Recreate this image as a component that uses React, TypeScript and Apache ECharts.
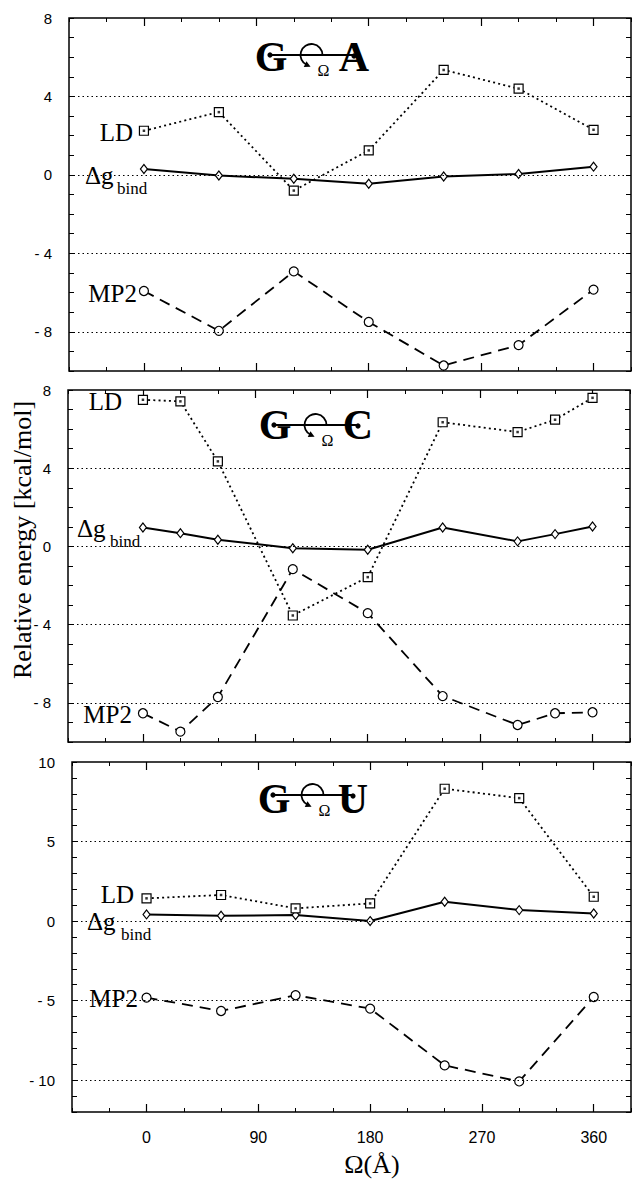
import React, { useEffect, useRef } from "react";
import * as echarts from "echarts";

// Ω (degrees) sampled for each complex
const anglesGA = [0, 60, 120, 180, 240, 300, 360];
const anglesGC = [0, 30, 60, 120, 180, 240, 300, 330, 360];
const anglesGU = [0, 60, 120, 180, 240, 300, 360];

// G–A
const gaLD = [2.25, 3.2, -0.8, 1.25, 5.35, 4.4, 2.3];
const gaDg = [0.3, -0.03, -0.2, -0.45, -0.08, 0.05, 0.42];
const gaMP2 = [-5.92, -7.95, -4.92, -7.5, -9.72, -8.68, -5.85];

// G–C
const gcLD = [7.5, 7.42, 4.35, -3.53, -1.57, 6.35, 5.85, 6.48, 7.6];
const gcDg = [0.97, 0.68, 0.34, -0.09, -0.17, 0.97, 0.26, 0.63, 1.02];
const gcMP2 = [-8.53, -9.47, -7.7, -1.16, -3.41, -7.65, -9.13, -8.53, -8.48];

// G–U
const guLD = [1.43, 1.64, 0.8, 1.11, 8.32, 7.73, 1.53];
const guDg = [0.42, 0.34, 0.38, 0.0, 1.22, 0.69, 0.48];
const guMP2 = [-4.81, -5.65, -4.66, -5.5, -9.07, -10.08, -4.77];

const xTickLabels = [0, 90, 180, 270, 360];
const yLabelsGA = [8, 4, 0, -4, -8];
const yLabelsGC = [8, 4, 0, -4, -8];
const yLabelsGU = [10, 5, 0, -5, -10];
const gridValsGA = [4, 0, -4, -8];
const gridValsGC = [4, 0, -4, -8];
const gridValsGU = [5, 0, -5, -10];

const panels = [
  { left: 69, top: 18, height: 353, min: -10, max: 8, yLabels: yLabelsGA, gridVals: gridValsGA, angles: anglesGA, ld: gaLD, dg: gaDg, mp2: gaMP2 },
  { left: 68, top: 390, height: 352, min: -10, max: 8, yLabels: yLabelsGC, gridVals: gridValsGC, angles: anglesGC, ld: gcLD, dg: gcDg, mp2: gcMP2 },
  { left: 72, top: 762, height: 350, min: -12, max: 10, yLabels: yLabelsGU, gridVals: gridValsGU, angles: anglesGU, ld: guLD, dg: guDg, mp2: guMP2 },
];

const SERIF = "'Liberation Serif', 'Times New Roman', serif";
const SANS = "'Liberation Sans', Arial, sans-serif";
const BLACK = "#000";

function fmtY(v: number) {
  return v < 0 ? "- " + Math.abs(v) : String(v);
}

function titleEls(gx: number, ax: number, ly: number, ty: number, letter: string) {
  const cx = (gx + ax) / 2 - 1;
  const r = 11;
  const th = 2.0;
  const px = cx + r * Math.cos(th);
  const py = ly + r * Math.sin(th);
  const dx = Math.sin(th), dy = -Math.cos(th);
  const nx = -dy, ny = dx;
  const tip = [px + dx * 4, py + dy * 4];
  const b1 = [px - dx * 2 + nx * 3.2, py - dy * 2 + ny * 3.2];
  const b2 = [px - dx * 2 - nx * 3.2, py - dy * 2 - ny * 3.2];
  const letterStyle = { fontSize: 42, fontWeight: "bold", fontFamily: SERIF, fill: BLACK, textAlign: "center", textVerticalAlign: "middle" };
  return [
    { type: "text", x: gx, y: ty, style: { ...letterStyle, text: "G" } },
    { type: "text", x: ax, y: ty, style: { ...letterStyle, text: letter } },
    { type: "line", shape: { x1: gx - 1, y1: ly, x2: ax, y2: ly }, style: { stroke: BLACK, lineWidth: 1.8 } },
    { type: "circle", shape: { cx: gx - 1, cy: ly, r: 2.6 }, style: { fill: BLACK } },
    { type: "circle", shape: { cx: ax, cy: ly + 1, r: 2.6 }, style: { fill: BLACK } },
    { type: "arc", shape: { cx, cy: ly, r, startAngle: th, endAngle: Math.PI * 2, clockwise: true }, style: { stroke: BLACK, lineWidth: 1.8, fill: "none" } },
    { type: "polygon", shape: { points: [tip, b1, b2] }, style: { fill: BLACK } },
    { type: "text", x: cx + 12, y: ly + 15, style: { text: "Ω", fontSize: 16, fontFamily: SERIF, fill: BLACK, textAlign: "center", textVerticalAlign: "middle" } },
  ];
}

function seriesLabels(ld: number[], dg: number[], mp: number[]) {
  // ld: [rightX, cy], dg: [leftX, cy, bindLeft, bindCy], mp: [rightX, cy]
  const big = { fontSize: 25, fontFamily: SERIF, fill: BLACK, textVerticalAlign: "middle" };
  return [
    { type: "text", x: ld[0], y: ld[1], style: { ...big, text: "LD", textAlign: "right" } },
    { type: "text", x: dg[0], y: dg[1], style: { ...big, text: "Δg", textAlign: "left" } },
    { type: "text", x: dg[2], y: dg[3], style: { fontSize: 17, fontFamily: SERIF, fill: BLACK, textVerticalAlign: "middle", text: "bind", textAlign: "left" } },
    { type: "text", x: mp[0], y: mp[1], style: { ...big, text: "MP2", textAlign: "right" } },
  ];
}

function buildOption() {
  const grid: any[] = [];
  const xAxis: any[] = [];
  const yAxis: any[] = [];
  const series: any[] = [];
  const W = 562;

  panels.forEach((p, i) => {
    grid.push({ left: p.left, top: p.top, width: W, height: p.height, show: true, borderColor: BLACK, borderWidth: 1.5, backgroundColor: "transparent" });
    const baseX = { gridIndex: i, type: "value", min: -60, max: 390, axisLine: { show: false, onZero: false }, splitLine: { show: false } };
    xAxis.push({
      ...baseX, position: "bottom", interval: 30,
      axisTick: { show: true, inside: true, length: 4, lineStyle: { color: BLACK, width: 1 } },
      axisLabel: {
        show: i === 2, margin: 17, color: BLACK, fontSize: 16, fontFamily: SANS,
        formatter: (v: number) => (xTickLabels.indexOf(v) >= 0 ? String(v) : ""),
      },
    });
    xAxis.push({
      ...baseX, position: "bottom",
      axisTick: { show: true, inside: true, length: 8, customValues: xTickLabels, lineStyle: { color: BLACK, width: 1.2 } },
      axisLabel: { show: false },
    });
    xAxis.push({
      ...baseX, position: "top", interval: 30,
      axisTick: { show: true, inside: true, length: 4, lineStyle: { color: BLACK, width: 1 } },
      axisLabel: { show: false },
    });
    xAxis.push({
      ...baseX, position: "top",
      axisTick: { show: true, inside: true, length: 8, customValues: xTickLabels, lineStyle: { color: BLACK, width: 1.2 } },
      axisLabel: { show: false },
    });
    const baseY = { gridIndex: i, type: "value", min: p.min, max: p.max, interval: 1, axisLine: { show: false, onZero: false }, splitLine: { show: false } };
    yAxis.push({
      ...baseY, position: "left",
      axisTick: { show: true, inside: true, length: 5, lineStyle: { color: BLACK, width: 1 } },
      axisLabel: {
        margin: 17, color: BLACK, fontSize: 15, fontFamily: SANS,
        formatter: (v: number) => (p.yLabels.indexOf(v) >= 0 ? fmtY(v) : ""),
      },
    });
    yAxis.push({
      ...baseY, position: "right",
      axisTick: { show: true, inside: true, length: 5, lineStyle: { color: BLACK, width: 1 } },
      axisLabel: { show: false },
    });

    const xi = i * 4;
    const yi = i * 2;
    const hollow = { color: "#fff", borderColor: BLACK, borderWidth: 1.2 };
    const ldData = p.angles.map((a, k) => [a, p.ld[k]]);
    const dgData = p.angles.map((a, k) => [a, p.dg[k]]);
    const mpData = p.angles.map((a, k) => [a, p.mp2[k]]);

    series.push({
      type: "line", xAxisIndex: xi, yAxisIndex: yi, data: dgData,
      symbol: "diamond", symbolSize: [7, 9], showSymbol: true,
      lineStyle: { color: BLACK, width: 2 }, itemStyle: hollow, z: 3,
      markLine: {
        silent: true, symbol: ["none", "none"], label: { show: false },
        lineStyle: { color: BLACK, width: 1, type: [1.5, 3] },
        data: p.gridVals.map((v) => ({ yAxis: v })),
      },
    });
    series.push({
      type: "line", xAxisIndex: xi, yAxisIndex: yi, data: ldData,
      symbol: "rect", symbolSize: 9, showSymbol: true,
      lineStyle: { color: BLACK, width: 1.8, type: [2, 3.2] }, itemStyle: hollow, z: 4,
    });
    series.push({
      type: "scatter", xAxisIndex: xi, yAxisIndex: yi, data: ldData,
      symbol: "rect", symbolSize: 2.5, itemStyle: { color: BLACK }, z: 5,
    });
    series.push({
      type: "line", xAxisIndex: xi, yAxisIndex: yi, data: mpData,
      symbol: "circle", symbolSize: 9, showSymbol: true,
      lineStyle: { color: BLACK, width: 1.8, type: [11, 7] }, itemStyle: hollow, z: 4,
    });
  });

  const graphic: any[] = [
    ...titleEls(271, 354, 55, 57, "A"),
    ...titleEls(275, 358, 425, 425, "C"),
    ...titleEls(274, 353, 795, 799, "U"),
    ...seriesLabels([133, 132], [85, 175, 117, 188], [137, 293]),
    ...seriesLabels([122, 401], [77, 528, 110, 541], [132, 714]),
    ...seriesLabels([134, 894], [87, 921, 121, 934], [138, 998]),
    {
      type: "text", x: 22, y: 540, rotation: Math.PI / 2,
      style: { text: "Relative energy [kcal/mol]", fontSize: 26, fontFamily: SERIF, fill: BLACK, textAlign: "center", textVerticalAlign: "middle" },
    },
    {
      type: "text", x: 372, y: 1164,
      style: { text: "Ω(Å)", fontSize: 26, fontFamily: SERIF, fill: BLACK, textAlign: "center", textVerticalAlign: "middle" },
    },
  ];

  return { animation: false, backgroundColor: "#fff", grid, xAxis, yAxis, series, graphic };
}

export default function App() {
  const ref = useRef<HTMLDivElement>(null);
  useEffect(() => {
    const chart = echarts.init(ref.current!, null, { renderer: "svg" });
    chart.setOption(buildOption() as any);
    return () => chart.dispose();
  }, []);
  return (
    <div
      ref={ref}
      style={{ position: "fixed", left: 0, top: 0, width: 634, height: 1180, background: "#fff" }}
    />
  );
}
